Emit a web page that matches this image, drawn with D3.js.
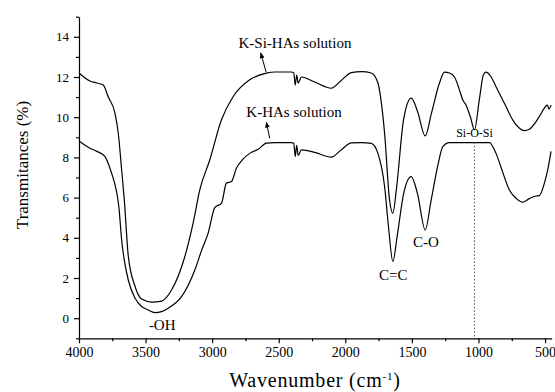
<!DOCTYPE html>
<html>
<head>
<meta charset="utf-8">
<script src="https://cdn.jsdelivr.net/npm/d3@7"></script>
<style>
  body { margin: 0; background: #fff; }
</style>
</head>
<body>
<div id="chart"></div>
<script>
var serif = "'Liberation Serif', 'Times New Roman', Times, serif";

// wavenumber (cm-1) and transmittance
var wnSi = [4000, 3918, 3865, 3818, 3780, 3730, 3705, 3680, 3660, 3630, 3580, 3530, 3452, 3380, 3305, 3205, 3143, 3093, 3018, 2930, 2843, 2718, 2593, 2530, 2405, 2387, 2376, 2365, 2354, 2330, 2230, 2105, 2035, 1955, 1878, 1805, 1755, 1727, 1705, 1668, 1643, 1615, 1562, 1505, 1458, 1400, 1353, 1293, 1255, 1218, 1180, 1143, 1118, 1093, 1060, 1030, 993, 963, 943, 905, 868, 793, 743, 700, 655, 618, 543, 505, 483, 471, 455];
var tSi = [12.2, 11.8, 11.7, 11.6, 11.0, 10.2, 9.2, 7.4, 5.9, 3.1, 1.6, 0.95, 0.8, 0.85, 1.4, 3.07, 4.73, 6.38, 7.87, 9.87, 11.02, 11.86, 12.19, 12.25, 12.25, 12.2, 11.6, 12.1, 11.7, 12.0, 11.75, 11.44, 11.8, 12.22, 12.27, 12.2, 11.7, 10.6, 9.2, 5.9, 5.22, 6.5, 9.9, 10.95, 10.3, 9.07, 10.2, 11.7, 12.24, 12.2, 12.0, 11.36, 10.86, 10.6, 10.0, 9.37, 10.9, 12.1, 12.24, 12.0, 11.52, 10.53, 9.87, 9.5, 9.33, 9.4, 10.03, 10.45, 10.6, 10.4, 10.6];

var wnHA = [4000, 3918, 3865, 3805, 3755, 3718, 3700, 3680, 3655, 3630, 3580, 3530, 3483, 3430, 3380, 3330, 3230, 3130, 3078, 3030, 2980, 2930, 2893, 2855, 2818, 2770, 2718, 2655, 2593, 2530, 2405, 2387, 2376, 2365, 2354, 2330, 2230, 2105, 2035, 1955, 1878, 1805, 1755, 1705, 1675, 1643, 1608, 1562, 1505, 1458, 1400, 1355, 1305, 1268, 1218, 1068, 918, 868, 830, 768, 715, 668, 618, 568, 543, 505, 480, 455];
var tHA = [8.82, 8.46, 8.3, 8.04, 7.21, 6.3, 5.5, 3.9, 2.7, 1.9, 1.0, 0.58, 0.42, 0.28, 0.33, 0.5, 1.07, 2.4, 3.4, 4.23, 5.5, 5.72, 6.72, 6.8, 7.46, 7.9, 8.2, 8.4, 8.71, 8.74, 8.74, 8.7, 8.05, 8.6, 8.1, 8.37, 8.25, 8.01, 8.35, 8.72, 8.74, 8.7, 8.2, 6.55, 4.5, 2.82, 4.2, 6.2, 7.04, 6.2, 4.39, 5.89, 7.6, 8.54, 8.74, 8.74, 8.74, 8.2, 7.5, 6.38, 5.95, 5.77, 5.95, 6.08, 6.1, 6.72, 7.38, 8.3];

var xMajor = [4000, 3500, 3000, 2500, 2000, 1500, 1000, 500];
var xMinor = [3750, 3250, 2750, 2250, 1750, 1250, 750];
var yMajor = [0, 2, 4, 6, 8, 10, 12, 14];
var yMinor = [-1, 1, 3, 5, 7, 9, 11, 13, 15];

var width = 555, height = 392;
var svg = d3.select("#chart").append("svg")
    .attr("width", width)
    .attr("height", height);

var x = d3.scaleLinear().domain([4000, 450]).range([79, 551.7]);
var y = d3.scaleLinear().domain([-1, 15]).range([338.3, 16.7]);

// axes
var xAxis = svg.append("g")
    .attr("transform", "translate(0," + y(-1) + ")")
    .call(d3.axisBottom(x).tickValues(xMajor).tickSize(5).tickSizeOuter(0).tickPadding(4).tickFormat(d3.format("d")));
xAxis.append("g").call(d3.axisBottom(x).tickValues(xMinor).tickSize(3).tickFormat(""))
    .select(".domain").remove();
xAxis.selectAll("text").style("font-size", "14px");

var yAxis = svg.append("g")
    .attr("transform", "translate(" + x(4000) + ",0)")
    .call(d3.axisLeft(y).tickValues(yMajor).tickSize(5).tickSizeOuter(0).tickPadding(5));
yAxis.append("g").call(d3.axisLeft(y).tickValues(yMinor).tickSize(3).tickFormat(""))
    .select(".domain").remove();
yAxis.selectAll("text").style("font-size", "13px");
svg.selectAll(".domain, .tick line").attr("stroke", "#000").attr("stroke-width", 1.2);

// axis titles
var xt = svg.append("text")
    .attr("x", 315).attr("y", 387)
    .attr("text-anchor", "middle")
    .style("font-size", "20px")
    .style("letter-spacing", "0.8px");
xt.append("tspan").text("Wavenumber (cm");
xt.append("tspan").attr("dy", -7).style("font-size", "11px").text("-1");
xt.append("tspan").attr("dy", 7).text(")");

svg.append("text")
    .attr("transform", "translate(28,165) rotate(-90)")
    .attr("text-anchor", "middle")
    .style("font-size", "17px")
    .text("Transmitances (%)");

// curves
var line = d3.line()
    .x(function(d) { return x(d[0]); })
    .y(function(d) { return y(d[1]); })
    .curve(d3.curveMonotoneX);

var series = [d3.zip(wnSi, tSi), d3.zip(wnHA, tHA)];
svg.selectAll(".spec")
    .data(series)
    .enter().append("path")
    .attr("class", "spec")
    .attr("d", line)
    .attr("fill", "none")
    .attr("stroke", "#000")
    .attr("stroke-width", 1.2);

// Si-O-Si marker line
svg.append("line")
    .attr("x1", x(1030)).attr("x2", x(1030))
    .attr("y1", y(8.75)).attr("y2", y(-1))
    .attr("stroke", "#555")
    .attr("stroke-width", 1)
    .attr("stroke-dasharray", "1.5,2");

// arrows
svg.append("defs").append("marker")
    .attr("id", "arrow")
    .attr("viewBox", "0 0 10 10")
    .attr("refX", 9).attr("refY", 5)
    .attr("markerWidth", 6).attr("markerHeight", 6)
    .attr("orient", "auto")
    .append("path").attr("d", "M0,1L10,5L0,9z").attr("fill", "#000");

svg.append("line")
    .attr("x1", x(2595)).attr("y1", y(12.25))
    .attr("x2", x(2635)).attr("y2", y(13.2))
    .attr("stroke", "#000").attr("stroke-width", 1)
    .attr("marker-end", "url(#arrow)");
svg.append("line")
    .attr("x1", x(2568)).attr("y1", y(8.95))
    .attr("x2", x(2593)).attr("y2", y(9.75))
    .attr("stroke", "#000").attr("stroke-width", 1)
    .attr("marker-end", "url(#arrow)");

// labels
function label(txt, wx, ty, size, anchor) {
    svg.append("text")
        .attr("x", x(wx)).attr("y", y(ty))
        .attr("text-anchor", anchor || "middle")
        .style("font-size", size + "px")
        .text(txt);
}
label("K-Si-HAs solution", 2378, 13.43, 15);
label("K-HAs solution", 2385, 10.0, 15);
label("Si-O-Si", 1030, 9.0, 12);
label("-OH", 3375, -0.6, 15);
label("C=C", 1640, 1.9, 15);
label("C-O", 1395, 3.55, 15);

svg.selectAll("text").style("font-family", serif).attr("fill", "#000");
</script>
</body>
</html>
